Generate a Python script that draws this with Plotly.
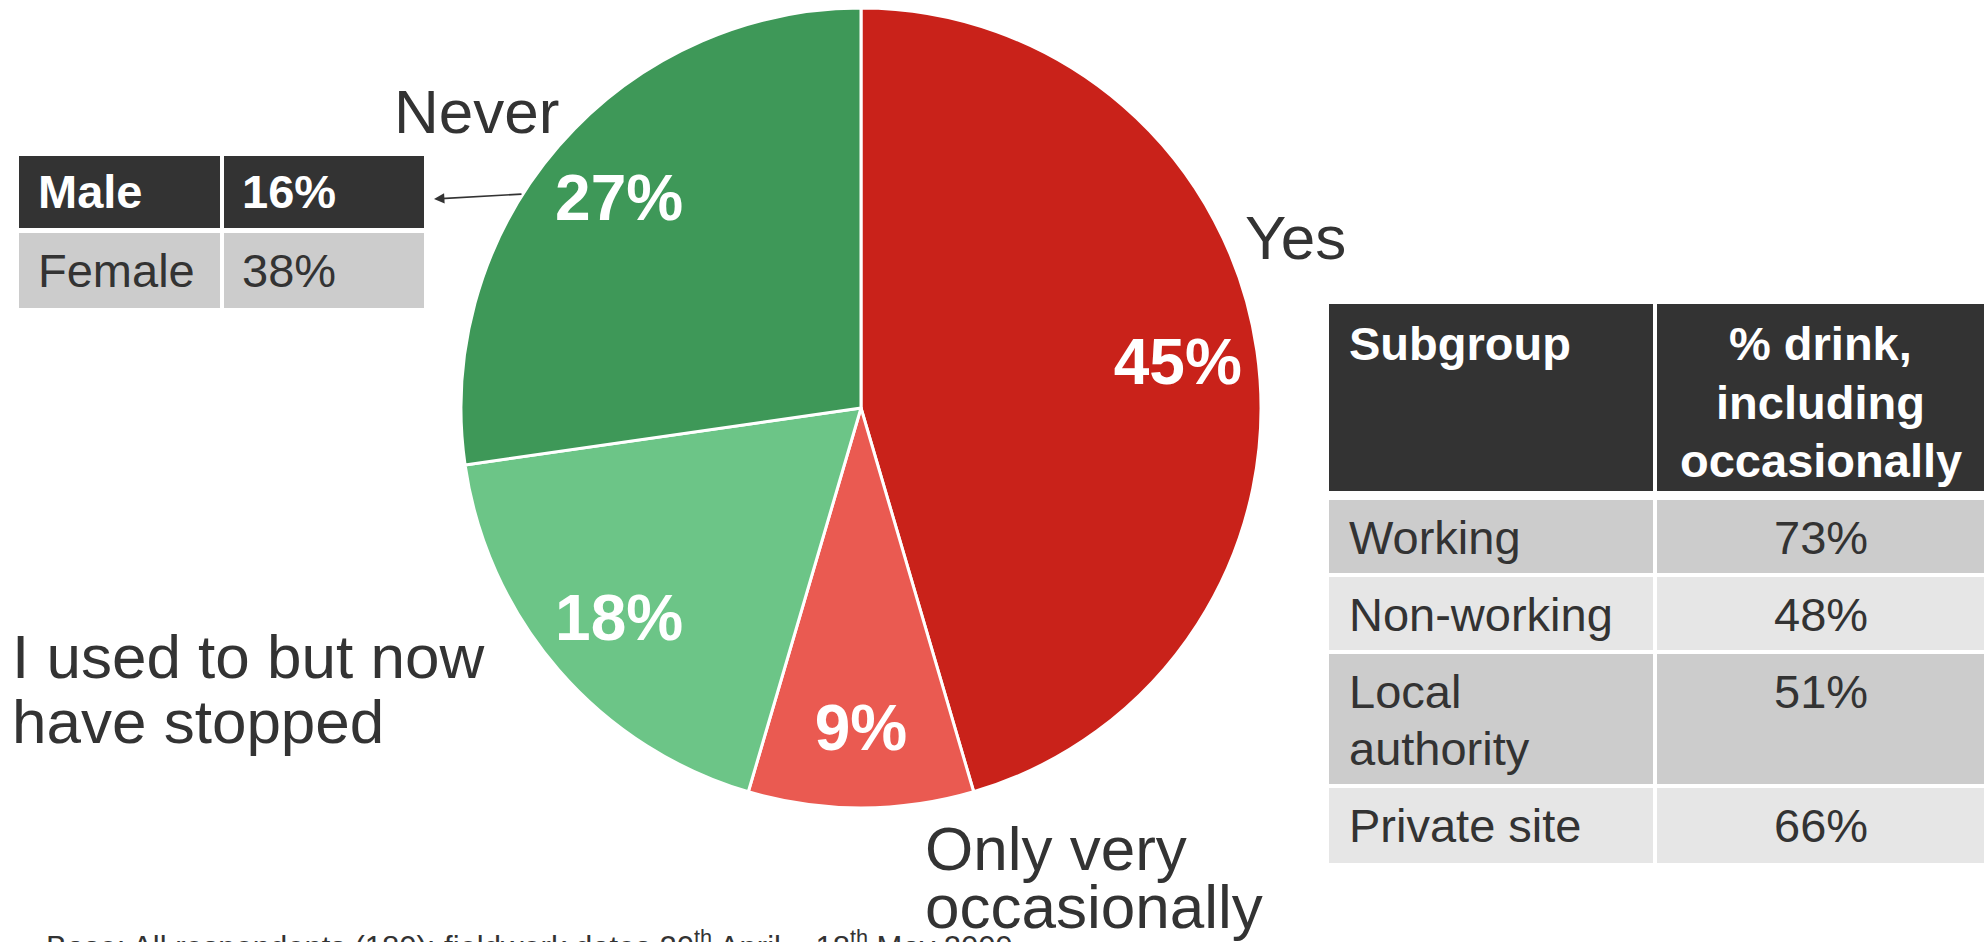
import plotly.graph_objects as go

# ---- data -------------------------------------------------------------
answers = ["Yes", "Only very occasionally", "I used to but now have stopped", "Never"]
shares = [45, 9, 18, 27]
slice_colors = ["#C9221A", "#EA5A51", "#6CC587", "#3E9858"]

never_rows = ["Male", "Female"]
never_pct = ["16%", "38%"]

subgroup_header = ["Subgroup"]
drink_header = ["% drink,", "including", "occasionally"]
subgroups = [["Working"], ["Non-working"], ["Local", "authority"], ["Private site"]]
drink_pct = ["73%", "48%", "51%", "66%"]

footnote = ("Base: All respondents (180); fieldwork dates 20<sup>th</sup> April \u2013 "
            "18<sup>th</sup> May 2009")

# ---- page geometry ----------------------------------------------------
W, H = 1986, 942
FONT = "Liberation Sans, Arial, sans-serif"
INK = "#333333"


def fx(px):
    return px / W


def fy(py):
    return 1 - py / H


pie_domain = dict(x=[fx(461), fx(1261)], y=[fy(808), fy(8)])

fig = go.Figure()

# filled slices
fig.add_trace(go.Pie(
    labels=answers,
    values=shares,
    sort=False,
    direction="clockwise",
    rotation=0,
    marker=dict(colors=slice_colors, line=dict(color="white", width=3)),
    textinfo="none",
    hoverinfo="label+percent",
    showlegend=False,
    domain=pie_domain,
))

# transparent ring on top that carries the percentage labels near the rim
fig.add_trace(go.Pie(
    labels=answers,
    values=shares,
    sort=False,
    direction="clockwise",
    rotation=0,
    hole=0.6,
    marker=dict(colors=["rgba(0,0,0,0)"] * len(shares), line=dict(width=0)),
    texttemplate="%{value}%",
    textposition="inside",
    insidetextorientation="horizontal",
    textfont=dict(family=FONT, size=64, color="white", weight="bold"),
    hoverinfo="skip",
    showlegend=False,
    domain=pie_domain,
))

shapes = []
annotations = []


def cell(x0, y0, x1, y1, color):
    shapes.append(dict(type="rect", xref="paper", yref="paper",
                       x0=fx(x0), x1=fx(x1), y0=fy(y1), y1=fy(y0),
                       fillcolor=color, line=dict(width=0), layer="below"))


def text(s, x, y, size, color=INK, bold=False, xanchor="left", yanchor="middle"):
    annotations.append(dict(text=s, x=fx(x), y=fy(y), xref="paper", yref="paper",
                            xanchor=xanchor, yanchor=yanchor, showarrow=False,
                            font=dict(family=FONT, size=size, color=color,
                                      weight="bold" if bold else "normal")))


# ---- slice category labels -------------------------------------------
text("Never", 392, 112, 62)
text("Yes", 1243, 237, 62)
text("I used to but now", 10, 656, 62)
text("have stopped", 10, 721, 62)
text("Only very", 923, 848, 62)
text("occasionally", 923, 906, 62)

# ---- "Never" breakdown table -----------------------------------------
left_rows = [(156, 228), (233, 308)]
left_cols = [(19, 220), (224, 424)]
for i, (r0, r1) in enumerate(left_rows):
    fill = "#333333" if i == 0 else "#CCCCCC"
    tc = "white" if i == 0 else INK
    for c0, c1 in left_cols:
        cell(c0, r0, c1, r1, fill)
    mid = (r0 + r1) / 2
    text(never_rows[i], left_cols[0][0] + 17, mid, 47, tc, bold=(i == 0))
    text(never_pct[i], left_cols[1][0] + 16, mid, 47, tc, bold=(i == 0))

annotations.append(dict(x=fx(434), y=fy(199), xref="paper", yref="paper",
                        ax=89, ay=-5, axref="pixel", ayref="pixel",
                        text="", showarrow=True, arrowhead=2, arrowsize=1.3,
                        arrowwidth=1.6, arrowcolor=INK))

# ---- subgroup table ---------------------------------------------------
right_cols = [(1329, 1653), (1657, 1984)]
head = (304, 491)
for c0, c1 in right_cols:
    cell(c0, head[0], c1, head[1], "#333333")
text(subgroup_header[0], right_cols[0][0] + 18, 344, 47, "white", bold=True)
col2_mid = (right_cols[1][0] + right_cols[1][1]) / 2
for k, line in enumerate(drink_header):
    text(line, col2_mid, 344 + 58 * k, 47, "white", bold=True, xanchor="center")

body_rows = [(500, 573), (577, 650), (654, 784), (788, 863)]
body_fill = ["#CCCCCC", "#E6E6E6", "#CCCCCC", "#E6E6E6"]
for i, (r0, r1) in enumerate(body_rows):
    for c0, c1 in right_cols:
        cell(c0, r0, c1, r1, body_fill[i])
    first = r0 + 37
    for k, line in enumerate(subgroups[i]):
        text(line, right_cols[0][0] + 18, first + 57 * k, 47)
    text(drink_pct[i], col2_mid, first, 47, xanchor="center")

# ---- footnote ---------------------------------------------------------
text(footnote, 44, 923, 31, yanchor="top")

fig.update_layout(
    width=W, height=H,
    margin=dict(l=0, r=0, t=0, b=0),
    paper_bgcolor="white",
    plot_bgcolor="white",
    shapes=shapes,
    annotations=annotations,
    showlegend=False,
)

fig.write_html("out.html")
